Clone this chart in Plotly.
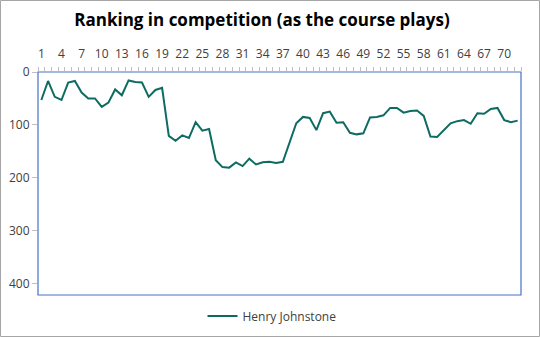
import plotly.graph_objects as go

rounds = list(range(1, 73))
ranking = [53, 17, 47, 53, 20, 17, 39, 50, 50, 66, 58, 33, 44, 16, 19, 20, 47, 34, 30, 121,
           130, 120, 125, 95, 111, 108, 167, 180, 181, 171, 178, 164, 175, 171, 170, 172, 170, 132, 97, 85,
           87, 110, 78, 75, 96, 95, 115, 118, 116, 86, 85, 82, 68, 68, 77, 74, 73, 83, 122, 123,
           109, 97, 93, 91, 98, 78, 79, 70, 68, 91, 95, 92]
series_name = "Henry Johnstone"
title_text = "Ranking in competition (as the course plays)"
xtick_vals = list(range(1, 73, 3))
ytick_vals = [0, 100, 200, 300, 400]

FONT = "Open Sans"
W, H = 540, 337
ML, MR, MT, MB = 38, 19, 72, 42
PW, PH = W - ML - MR, H - MT - MB

fig = go.Figure()
fig.add_trace(go.Scatter(x=rounds, y=ranking, mode="lines", name=series_name,
                         line=dict(color="#0E6B62", width=2)))

fig.update_layout(
    width=W, height=H,
    margin=dict(l=ML, r=MR, t=MT, b=MB, autoexpand=False),
    paper_bgcolor="white", plot_bgcolor="white",
    font=dict(family=FONT, size=12, color="#404040"),
    title=dict(text="<b>" + title_text + "</b>", xref="container", x=262 / W, xanchor="center",
               y=1 - 20 / H, yanchor="middle",
               font=dict(family=FONT, size=17, color="black")),
    showlegend=True,
    legend=dict(orientation="h", xref="container", x=272 / W, xanchor="center", yref="container",
                y=1 - 316 / H, yanchor="middle", font=dict(family=FONT, size=12, color="#404040")),
    xaxis=dict(side="top", range=[0.5, 72.5], tickvals=xtick_vals, ticks="outside", ticklen=0,
               ticklabelstandoff=8, showgrid=False, zeroline=False, showline=False,
               tickfont=dict(family=FONT, size=12, color="#404040"),
               minor=dict(tick0=0.5, dtick=1, ticks="outside", ticklen=4, tickcolor="#BFBFBF", showgrid=False)),
    yaxis=dict(autorange=False, range=[422, 0], tickvals=ytick_vals, ticks="outside", ticklen=5,
               tickcolor="#BFBFBF", showgrid=False, zeroline=False, showline=False,
               tickfont=dict(family=FONT, size=12, color="#404040")),
)

fig.add_shape(type="rect", xref="paper", yref="paper",
              x0=(0.5 - ML) / PW, x1=(W - 0.5 - ML) / PW,
              y0=((MT + PH) - (H - 0.5)) / PH, y1=(MT + PH - 0.5) / PH,
              line=dict(color="#A6A6A6", width=1), fillcolor="rgba(0,0,0,0)", layer="below")
fig.add_shape(type="rect", xref="paper", yref="paper", x0=0, x1=1, y0=0, y1=1,
              line=dict(color="#4472C4", width=1.2), fillcolor="rgba(0,0,0,0)", layer="above")

fig.write_html("out.html")
